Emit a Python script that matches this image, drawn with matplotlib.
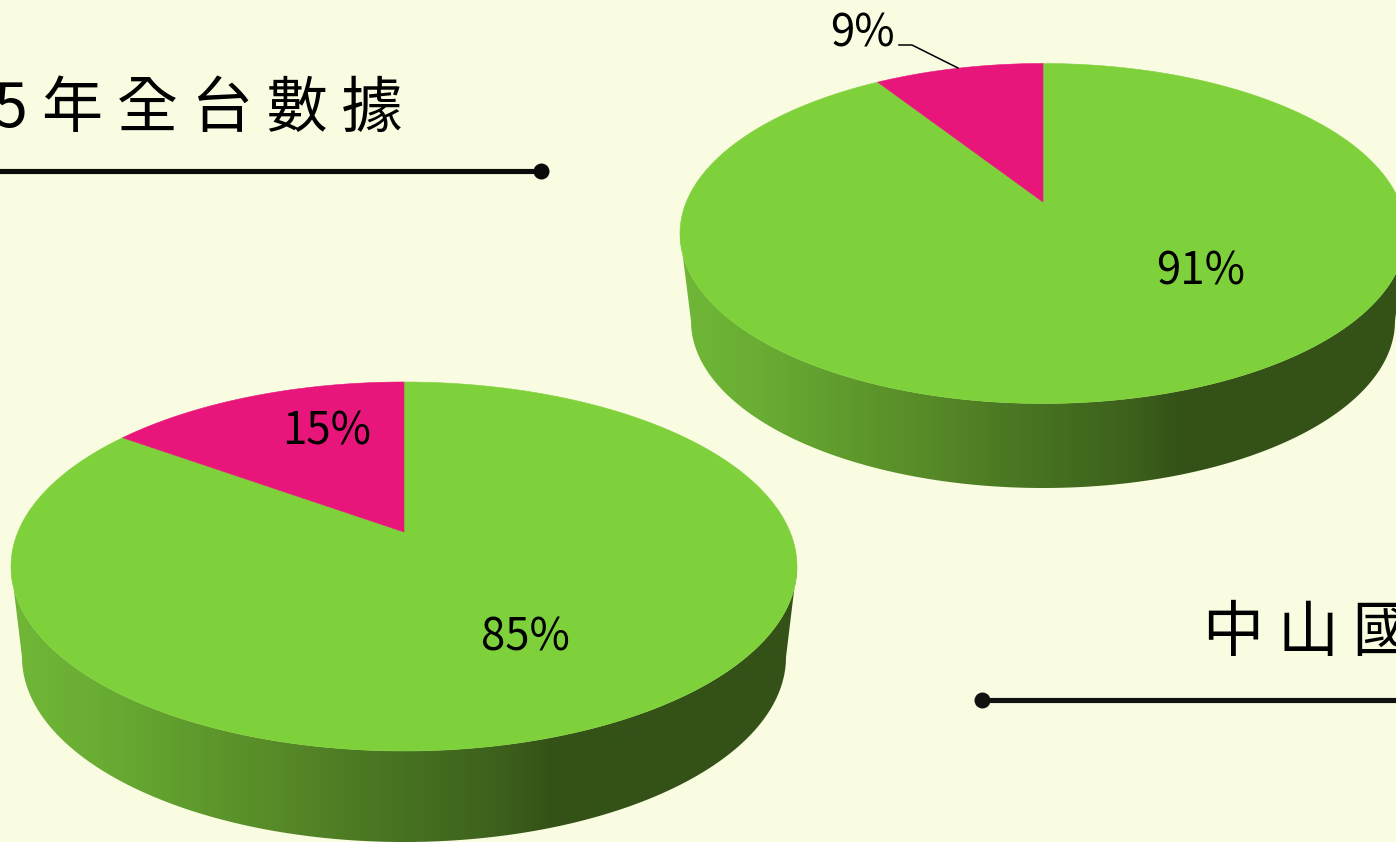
import numpy as np
import matplotlib
matplotlib.use("Agg")
import matplotlib.pyplot as plt
from matplotlib.patches import Polygon
from matplotlib.colors import LinearSegmentedColormap

# Data
top_pie_values = [91, 9]
bottom_pie_values = [85, 15]
title_left_year = "105"
title_left = "年 全 台 數 據"
title_right = "中 山 國 小"

W, H = 1396, 842
BG = "#F9FCE0"
GREEN = "#7FD13B"
PINK = "#E8157A"
CJK = ["Noto Sans CJK TC", "DejaVu Sans"]

fig = plt.figure(figsize=(W / 100, H / 100), dpi=100, facecolor=BG)
ax = fig.add_axes([0, 0, 1, 1])
ax.set_xlim(0, W)
ax.set_ylim(H, 0)
ax.axis("off")

side_cmap = LinearSegmentedColormap.from_list(
    "side", [(0.0, "#70B737"), (0.11, "#69AD33"), (0.37, "#548526"), (0.44, "#4C7A24"),
             (0.62, "#3D611C"), (0.69, "#345217"), (1.0, "#345217")])


def project(theta, cx, cy, rx, ry, p):
    """Map a circle angle (clockwise from 12 o'clock) to the perspective top face."""
    u, v = np.sin(theta), np.cos(theta)
    d = 1 + p * v
    return cx + rx * np.sqrt(1 - p * p) * u / d, cy - ry * (v + p) / d


def pie3d(values, cx, cy, rx, ry, apex_y, bx, by, brx, bry):
    p = (cy - apex_y) / ry
    # side wall: gradient clipped to the hull of the two ellipses
    t = np.linspace(0, np.pi, 200)
    xb = bx + brx * np.cos(t)
    yb = by + bry * np.sin(t)
    outline = np.r_[np.c_[[cx + rx, cx + rx], [cy - 1, cy]],
                    np.c_[xb, yb],
                    np.c_[[cx - rx], [cy]],
                    np.c_[cx + rx * np.cos(t[::-1]), cy + ry * np.sin(t[::-1])]]
    clip = Polygon(outline, closed=True, fc="none", ec="none", transform=ax.transData)
    ax.add_patch(clip)
    grad = np.linspace(0, 1, 512).reshape(1, -1)
    im = ax.imshow(grad, cmap=side_cmap, aspect="auto", zorder=1,
                   extent=(cx - rx, cx + rx, by + bry, cy), interpolation="bilinear")
    im.set_clip_path(clip)
    ax.set_xlim(0, W)
    ax.set_ylim(H, 0)

    # top face wedges, clockwise from 12 o'clock
    total = sum(values)
    start = 0.0
    apex = (cx, apex_y)
    for val, col in zip(values, [GREEN, PINK]):
        end = start + 2 * np.pi * val / total
        th = np.linspace(start, end, 300)
        x, y = project(th, cx, cy, rx, ry, p)
        ax.add_patch(Polygon(np.r_[[apex], np.c_[x, y]], closed=True, fc=col, ec=col,
                             lw=0.4, zorder=2))
        start = end


pie3d(top_pie_values, 1043, 233.5, 363, 170, 202, 1043, 321, 352, 167)
pie3d(bottom_pie_values, 404, 566.5, 393, 184.5, 532, 404, 657, 382, 185)

# percentage labels
lab = dict(fontsize=31.5, family=CJK, weight="medium", color="black", ha="center",
           va="center", zorder=5)
ax.text(1201, 271.5, f"{top_pie_values[0]}%", **lab)
ax.text(862, 33.5, f"{top_pie_values[1]}%", **lab)
ax.text(525, 637.5, f"{bottom_pie_values[0]}%", **lab)
ax.text(327, 431.5, f"{bottom_pie_values[1]}%", **lab)

# leader line of the 9% label
ax.plot([899, 912, 958], [45, 45, 68], color="black", lw=1.1, zorder=5)

# titles with rules
ax.text(403, 110, title_left, fontsize=44, family=CJK, color="black", ha="right",
        va="center", zorder=5)
ax.text(28, 110, title_left_year, fontsize=44, family=CJK, color="black", ha="right",
        va="center", zorder=5)
ax.plot([-5, 541], [171, 171], color="#0A0A0A", lw=3.7, solid_capstyle="butt", zorder=5)
ax.plot([541], [171], "o", color="#0A0A0A", ms=11.5, mew=0, zorder=5)

ax.text(1203, 634, title_right, fontsize=44, family=CJK, color="black", ha="left",
        va="center", zorder=5)
ax.plot([982, W + 5], [700, 700], color="#111111", lw=3.7, solid_capstyle="butt", zorder=5)
ax.plot([982], [700], "o", color="#111111", ms=11.5, mew=0, zorder=5)

fig.savefig("out.png", dpi=100, facecolor=BG)
